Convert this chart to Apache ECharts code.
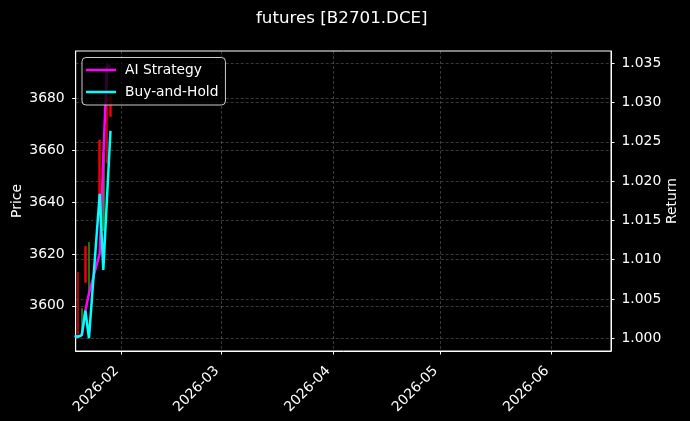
<!DOCTYPE html>
<html>
<head>
    <meta charset="UTF-8">
    <title>futures [B2701.DCE]</title>
    <script src="https://cdn.jsdelivr.net/npm/echarts@6/dist/echarts.min.js"></script>
    <style>
        html, body { margin: 0; padding: 0; background: #000; }
        #main { width: 690px; height: 421px; }
    </style>
</head>
<body>
<div id="main"></div>
<script type="text/javascript">
    // 数据
    var lineDates = ['2026-01-19', '2026-01-20', '2026-01-21', '2026-01-22', '2026-01-23',
                     '2026-01-26', '2026-01-27', '2026-01-28', '2026-01-29'];
    var aiStrategy = [1.0003, 1.0002, 1.0004, 1.0035, 1.0057, 1.0108, 1.0229, 1.0347, 1.0347];
    var buyHold    = [1.0003, 1.0002, 1.0004, 1.0035, 1.0000, 1.0184, 1.0087, 1.0176, 1.0264];

    var candleDates = ['2026-01-20', '2026-01-21', '2026-01-22', '2026-01-23',
                       '2026-01-26', '2026-01-27', '2026-01-28', '2026-01-29'];
    var candleOpen  = [3589, 3599, 3609, 3624.5, 3638, 3659, 3655, 3673];
    var candleClose = [3613, 3591, 3623, 3604, 3664, 3629, 3694, 3681];
    var candleLow   = [3589, 3591, 3609, 3604, 3638, 3629, 3655, 3673];
    var candleHigh  = [3613, 3599, 3623, 3624.5, 3664, 3659, 3694, 3681];

    var priceTicks  = [3600, 3620, 3640, 3660, 3680];
    var returnTicks = [1.000, 1.005, 1.010, 1.015, 1.020, 1.025, 1.030, 1.035];
    var monthTicks  = ['2026-02-01', '2026-03-01', '2026-04-01', '2026-05-01', '2026-06-01'];

    var font = 'DejaVu Sans';
    var gridLine = { show: true, lineStyle: { color: 'rgba(255,255,255,0.28)', width: 0.8, type: [3, 2] } };

    // 日期字符串 -> 本地时间戳
    function toTime(s) {
        var p = s.split(/[- :]/);
        return new Date(+p[0], +p[1] - 1, +p[2], +(p[3] || 0), +(p[4] || 0)).getTime();
    }

    var candleData = candleDates.map(function (d, i) {
        return [toTime(d), candleOpen[i], candleClose[i], candleLow[i], candleHigh[i]];
    });
    var aiData = lineDates.map(function (d, i) { return [toTime(d), aiStrategy[i]]; });
    var bhData = lineDates.map(function (d, i) { return [toTime(d), buyHold[i]]; });
    var monthValues = monthTicks.map(toTime);

    var chart = echarts.init(document.getElementById('main'));

    var option = {
        backgroundColor: '#000',
        animation: false,
        title: {
            text: 'futures [B2701.DCE]',
            left: 251,
            top: 5,
            textStyle: { color: '#fff', fontSize: 16.7, fontWeight: 'normal', fontFamily: font }
        },
        legend: {
            data: ['AI Strategy', 'Buy-and-Hold'],
            orient: 'vertical',
            left: 82,
            top: 57.5,
            icon: 'rect',
            itemWidth: 30,
            itemHeight: 2.5,
            itemGap: 8,
            padding: [5.5, 7, 6, 4],
            backgroundColor: 'rgba(0,0,0,0.8)',
            borderColor: '#cccccc',
            borderWidth: 1,
            borderRadius: 4,
            textStyle: { color: '#fff', fontSize: 13.8, fontFamily: font, padding: [0, 0, 0, 4] }
        },
        grid: {
            left: 75.7,
            right: 79,
            top: 51,
            bottom: 70,
            show: true,
            borderColor: '#fff',
            borderWidth: 1,
            outerBoundsMode: 'none'
        },
        xAxis: {
            type: 'value',
            min: toTime('2026-01-19 07:12'),
            max: toTime('2026-06-17 14:24'),
            axisLine: { lineStyle: { color: '#fff', width: 1 } },
            axisTick: { show: true, length: 3.5, lineStyle: { color: '#fff' }, customValues: monthValues },
            axisLabel: {
                customValues: monthValues,
                rotate: 45,
                margin: 13,
                padding: [0, 6.5, 0, 0],
                color: '#fff',
                fontSize: 13.9,
                fontFamily: font,
                formatter: function (v) {
                    var d = new Date(v);
                    var m = d.getMonth() + 1;
                    return d.getFullYear() + '-' + (m < 10 ? '0' + m : m);
                }
            },
            splitLine: gridLine
        },
        yAxis: [
            {
                type: 'value',
                position: 'left',
                min: 3582.6,
                max: 3698.3,
                name: 'Price',
                nameLocation: 'middle',
                nameRotate: 90,
                nameGap: 51,
                nameMoveOverlap: false,
                nameTextStyle: { color: '#fff', fontSize: 13.9, fontFamily: font },
                axisLine: { show: true, lineStyle: { color: '#fff', width: 1 } },
                axisTick: { show: true, length: 3.5, lineStyle: { color: '#fff' }, customValues: priceTicks },
                axisLabel: {
                    customValues: priceTicks,
                    margin: 11,
                    color: '#fff',
                    fontSize: 13.9,
                    fontFamily: font,
                    formatter: function (v) { return String(Math.round(v)); }
                },
                splitLine: gridLine
            },
            {
                type: 'value',
                position: 'right',
                min: 0.99838,
                max: 1.03657,
                name: 'Return',
                nameLocation: 'middle',
                nameRotate: 90,
                nameGap: 54,
                nameMoveOverlap: false,
                nameTextStyle: { color: '#fff', fontSize: 13.9, fontFamily: font },
                axisLine: { show: true, lineStyle: { color: '#fff', width: 1 } },
                axisTick: { show: true, length: 3.5, lineStyle: { color: '#fff' }, customValues: returnTicks },
                axisLabel: {
                    customValues: returnTicks,
                    margin: 10.5,
                    color: '#fff',
                    fontSize: 13.9,
                    fontFamily: font,
                    formatter: function (v) { return v.toFixed(3); }
                },
                splitLine: gridLine
            }
        ],
        series: [
            {
                name: 'Price',
                type: 'candlestick',
                yAxisIndex: 0,
                barWidth: 2,
                encode: { x: 0, y: [1, 2, 3, 4] },
                itemStyle: {
                    color: '#f00000',
                    color0: '#2a9a1a',
                    borderColor: '#f00000',
                    borderColor0: '#2a9a1a',
                    borderWidth: 0.5
                },
                data: candleData,
                z: 2
            },
            {
                name: 'AI Strategy',
                type: 'line',
                yAxisIndex: 1,
                showSymbol: false,
                color: '#ff00ff',
                lineStyle: { color: '#ff00ff', width: 2.5 },
                data: aiData,
                z: 3
            },
            {
                name: 'Buy-and-Hold',
                type: 'line',
                yAxisIndex: 1,
                showSymbol: false,
                color: '#00ffff',
                lineStyle: { color: '#00ffff', width: 2.5 },
                data: bhData,
                z: 4
            }
        ]
    };

    chart.setOption(option);
</script>
</body>
</html>
